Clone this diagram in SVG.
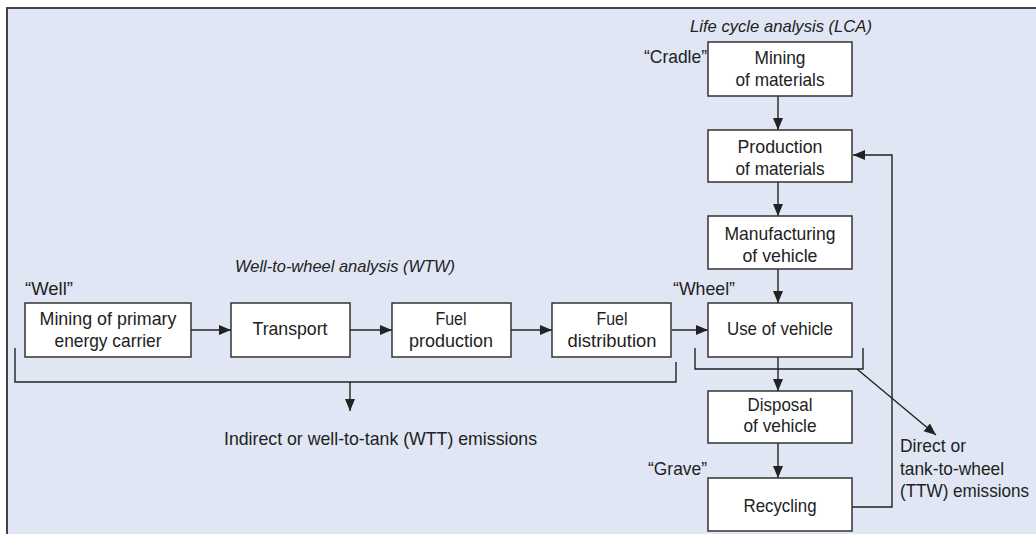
<svg xmlns="http://www.w3.org/2000/svg" width="1036" height="534" viewBox="0 0 1036 534">
<style>
.bg{fill:#E0E6F4;}
.frame{fill:none;stroke:#444;stroke-width:2;}
.box{fill:#fff;stroke:#333;stroke-width:1.5;}
.ln{fill:none;stroke:#222;stroke-width:1.4;}
.t{font-family:"Liberation Sans",Arial,sans-serif;font-size:19px;fill:#222;}
.i{font-style:italic;font-size:16.5px;}
.c{text-anchor:middle;}
</style>
<defs>
<marker id="ah" markerUnits="userSpaceOnUse" markerWidth="13" markerHeight="11" refX="12" refY="5" orient="auto">
<path d="M0,0 L12,5 L0,10 Z" fill="#222"/>
</marker>
</defs>
<rect class="bg" x="7" y="8" width="1029" height="526"/>
<path class="frame" d="M7,534 V8 H1036"/>

<g id="connectors">
<line class="ln" x1="191" y1="330" x2="231" y2="330" marker-end="url(#ah)"/>
<line class="ln" x1="350" y1="330" x2="392" y2="330" marker-end="url(#ah)"/>
<line class="ln" x1="511" y1="330" x2="552" y2="330" marker-end="url(#ah)"/>
<line class="ln" x1="672" y1="330" x2="708" y2="330" marker-end="url(#ah)"/>
<line class="ln" x1="778" y1="96" x2="778" y2="130" marker-end="url(#ah)"/>
<line class="ln" x1="778" y1="182" x2="778" y2="216" marker-end="url(#ah)"/>
<line class="ln" x1="778" y1="269" x2="778" y2="303" marker-end="url(#ah)"/>
<line class="ln" x1="778" y1="357" x2="778" y2="391" marker-end="url(#ah)"/>
<line class="ln" x1="778" y1="443" x2="778" y2="478" marker-end="url(#ah)"/>
<path class="ln" d="M852,507 H892 V155 H853" marker-end="url(#ah)"/>
<path class="ln" d="M15,348 V382 H676 V362"/>
<line class="ln" x1="350" y1="382" x2="350" y2="411" marker-end="url(#ah)"/>
<path class="ln" d="M695,348 V369 H863 V348"/>
<line class="ln" x1="857" y1="369" x2="936" y2="435" marker-end="url(#ah)"/>
</g>

<g id="labels">
<text class="t i" x="690" y="32" textLength="182" lengthAdjust="spacingAndGlyphs">Life cycle analysis (LCA)</text>
<text class="t i" x="235" y="272" textLength="220" lengthAdjust="spacingAndGlyphs">Well-to-wheel analysis (WTW)</text>
<text class="t" x="644" y="63" textLength="63" lengthAdjust="spacingAndGlyphs">“Cradle”</text>
<text class="t" x="25" y="295" textLength="48" lengthAdjust="spacingAndGlyphs">“Well”</text>
<text class="t" x="673" y="295" textLength="62" lengthAdjust="spacingAndGlyphs">“Wheel”</text>
<text class="t" x="648" y="475" textLength="59" lengthAdjust="spacingAndGlyphs">“Grave”</text>
<text class="t" x="224" y="445" textLength="313" lengthAdjust="spacingAndGlyphs">Indirect or well-to-tank (WTT) emissions</text>
<text class="t" x="900" y="452" textLength="66" lengthAdjust="spacingAndGlyphs">Direct or</text>
<text class="t" x="900" y="475" textLength="104" lengthAdjust="spacingAndGlyphs">tank-to-wheel</text>
<text class="t" x="900" y="497" textLength="129" lengthAdjust="spacingAndGlyphs">(TTW) emissions</text>
</g>

<g id="n-mining-primary">
<rect class="box" x="25" y="303" width="166" height="54"/>
<text class="t c" x="108" y="325" textLength="137" lengthAdjust="spacingAndGlyphs">Mining of primary</text>
<text class="t c" x="108" y="347" textLength="107" lengthAdjust="spacingAndGlyphs">energy carrier</text>
</g>
<g id="n-transport">
<rect class="box" x="231" y="303" width="119" height="54"/>
<text class="t c" x="290" y="335" textLength="75" lengthAdjust="spacingAndGlyphs">Transport</text>
</g>
<g id="n-fuel-production">
<rect class="box" x="392" y="303" width="119" height="54"/>
<text class="t c" x="451" y="325" textLength="31" lengthAdjust="spacingAndGlyphs">Fuel</text>
<text class="t c" x="451" y="347" textLength="84" lengthAdjust="spacingAndGlyphs">production</text>
</g>
<g id="n-fuel-distribution">
<rect class="box" x="552" y="303" width="119" height="54"/>
<text class="t c" x="612" y="325" textLength="31" lengthAdjust="spacingAndGlyphs">Fuel</text>
<text class="t c" x="612" y="347" textLength="89" lengthAdjust="spacingAndGlyphs">distribution</text>
</g>
<g id="n-mining-materials">
<rect class="box" x="708" y="42" width="144" height="54"/>
<text class="t c" x="780" y="64" textLength="51" lengthAdjust="spacingAndGlyphs">Mining</text>
<text class="t c" x="780" y="86" textLength="89" lengthAdjust="spacingAndGlyphs">of materials</text>
</g>
<g id="n-production-materials">
<rect class="box" x="708" y="130" width="144" height="52"/>
<text class="t c" x="780" y="153" textLength="85" lengthAdjust="spacingAndGlyphs">Production</text>
<text class="t c" x="780" y="175" textLength="89" lengthAdjust="spacingAndGlyphs">of materials</text>
</g>
<g id="n-manufacturing">
<rect class="box" x="708" y="216" width="144" height="53"/>
<text class="t c" x="780" y="240" textLength="111" lengthAdjust="spacingAndGlyphs">Manufacturing</text>
<text class="t c" x="780" y="262" textLength="75" lengthAdjust="spacingAndGlyphs">of vehicle</text>
</g>
<g id="n-use">
<rect class="box" x="708" y="303" width="144" height="54"/>
<text class="t c" x="780" y="335" textLength="106" lengthAdjust="spacingAndGlyphs">Use of vehicle</text>
</g>
<g id="n-disposal">
<rect class="box" x="708" y="391" width="144" height="52"/>
<text class="t c" x="780" y="411" textLength="65" lengthAdjust="spacingAndGlyphs">Disposal</text>
<text class="t c" x="780" y="432" textLength="73" lengthAdjust="spacingAndGlyphs">of vehicle</text>
</g>
<g id="n-recycling">
<rect class="box" x="708" y="478" width="144" height="53"/>
<text class="t c" x="780" y="512" textLength="73" lengthAdjust="spacingAndGlyphs">Recycling</text>
</g>
</svg>
